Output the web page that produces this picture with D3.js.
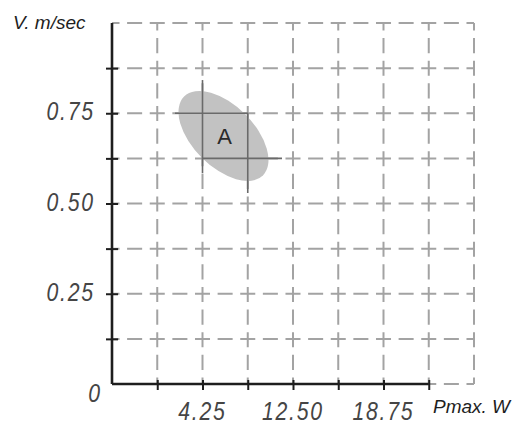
<!DOCTYPE html>
<html>
<head>
<meta charset="utf-8">
<script src="https://cdn.jsdelivr.net/npm/d3@7"></script>
<style>
  html, body { margin: 0; padding: 0; background: #fff; }
  svg { display: block; }
</style>
</head>
<body>
<svg id="chart" width="516" height="426"></svg>
<script>
// ---- data ----
const xGridValues = [3.125, 6.25, 9.375, 12.5, 15.625, 18.75, 21.875, 25];
const yGridValues = [0.125, 0.25, 0.375, 0.5, 0.625, 0.75, 0.875, 1.0];
const xTickValues = [6.25, 12.5, 18.75];
const xTickLabels = ["4.25", "12.50", "18.75"];
const yTickValues = [0.25, 0.5, 0.75];
const yTickLabels = ["0.25", "0.50", "0.75"];
const regionLabel = "A";
const regionCenter = [7.7, 0.687];     // x (W), y (m/sec)
const regionRadii = [3.85, 0.085];     // semi-major (W units), semi-minor (m/sec units)
const regionAngle = 45;                // degrees, clockwise
// solid crosshair segments inside region: [x1, y1, x2, y2]
const crossSegments = [
  [6.25, 0.842, 6.25, 0.584],
  [4.35, 0.75, 9.39, 0.75],
  [9.375, 0.75, 9.375, 0.529],
  [6.25, 0.625, 11.74, 0.625]
];
const xAxisEnd = 21.875;

// ---- layout ----
const svg = d3.select("#chart");
const x = d3.scaleLinear().domain([0, 25]).range([112, 474]);
const y = d3.scaleLinear().domain([0, 1]).range([384, 23]);

const cell = x(3.125) - x(0);
const dash = cell / 2 - 7.6;
const gridDash = `${dash},7.6`;
const gridOffset = dash / 2;

const grid = svg.append("g")
  .attr("stroke", "#a3a3a3")
  .attr("stroke-width", 2)
  .attr("fill", "none")
  .attr("stroke-dasharray", gridDash)
  .attr("stroke-dashoffset", gridOffset);

grid.selectAll("line.v").data(xGridValues).join("line")
  .attr("class", "v")
  .attr("x1", d => x(d)).attr("x2", d => x(d))
  .attr("y1", y(1)).attr("y2", y(0));
grid.selectAll("line.h").data([0].concat(yGridValues)).join("line")
  .attr("class", "h")
  .attr("x1", x(0)).attr("x2", x(25))
  .attr("y1", d => y(d)).attr("y2", d => y(d));

// region ellipse
const [cx, cy] = regionCenter;
svg.append("ellipse")
  .attr("cx", x(cx)).attr("cy", y(cy))
  .attr("rx", x(regionRadii[0]) - x(0))
  .attr("ry", y(0) - y(regionRadii[1]))
  .attr("transform", `rotate(${regionAngle},${x(cx)},${y(cy)})`)
  .attr("fill", "#c2c2c2");

svg.append("g").selectAll("line").data(crossSegments).join("line")
  .attr("x1", d => x(d[0])).attr("y1", d => y(d[1]))
  .attr("x2", d => x(d[2])).attr("y2", d => y(d[3]))
  .attr("stroke", "#6a6a6a").attr("stroke-width", 1.6);

svg.append("text")
  .attr("x", x(cx) + 1).attr("y", y(cy) + 2)
  .attr("text-anchor", "middle")
  .attr("dominant-baseline", "middle")
  .attr("font-family", "Liberation Sans, Arial, sans-serif")
  .attr("font-size", 22)
  .attr("fill", "#2a2a2a")
  .text(regionLabel);

// axes
const axisColor = "#1e1e1e";
const yAxis = svg.append("g").attr("transform", `translate(${x(0)},0)`)
  .call(d3.axisLeft(y).tickValues(yGridValues.slice(0, -1)).tickSize(6).tickFormat(""));
yAxis.select(".domain").remove();
yAxis.selectAll(".tick line").attr("x1", -6).attr("x2", 6)
  .attr("stroke", axisColor).attr("stroke-width", 2);
svg.append("line")
  .attr("x1", x(0)).attr("x2", x(0)).attr("y1", y(1)).attr("y2", y(0))
  .attr("stroke", axisColor).attr("stroke-width", 2.6);

const xAxis = svg.append("g").attr("transform", `translate(0,${y(0)})`)
  .call(d3.axisBottom(x).tickValues(xGridValues.slice(0, -1)).tickSize(6).tickFormat(""));
xAxis.select(".domain").remove();
xAxis.selectAll(".tick line").attr("y1", -4).attr("y2", 6)
  .attr("stroke", axisColor).attr("stroke-width", 2);
svg.append("line")
  .attr("x1", x(0)).attr("x2", x(xAxisEnd)).attr("y1", y(0)).attr("y2", y(0))
  .attr("stroke", axisColor).attr("stroke-width", 2.6);

// tick labels (narrow italic technical style)
const sx = 0.85, ls = 2, fs = 25;
function techLabel(g, px, py, anchor, str) {
  const shift = anchor === "end" ? ls * sx : (anchor === "middle" ? ls * sx / 2 : 0);
  g.append("g")
    .attr("transform", `translate(${px + shift},${py}) scale(${sx},1)`)
    .append("text")
    .attr("text-anchor", anchor)
    .attr("font-family", "Liberation Sans, Arial, sans-serif")
    .attr("font-style", "italic")
    .attr("font-size", fs)
    .attr("letter-spacing", ls)
    .attr("fill", "#454545")
    .text(str);
}
const labels = svg.append("g");
yTickValues.forEach((v, i) => techLabel(labels, x(0) - 19, y(v) + 7, "end", yTickLabels[i]));
techLabel(labels, x(0) - 12, y(0) + 18, "end", "0");
xTickValues.forEach((v, i) => techLabel(labels, x(v) - 1, y(0) + 36, "middle", xTickLabels[i]));

// axis titles
svg.append("text")
  .attr("x", 13).attr("y", 29)
  .attr("font-family", "Liberation Sans, Arial, sans-serif")
  .attr("font-style", "italic")
  .attr("font-size", 19)
  .attr("fill", "#1e1e1e")
  .text("V. m/sec");

svg.append("text")
  .attr("x", 433).attr("y", 413)
  .attr("font-family", "Liberation Sans, Arial, sans-serif")
  .attr("font-style", "italic")
  .attr("font-size", 19)
  .attr("fill", "#1e1e1e")
  .text("Pmax. W");
</script>
</body>
</html>
